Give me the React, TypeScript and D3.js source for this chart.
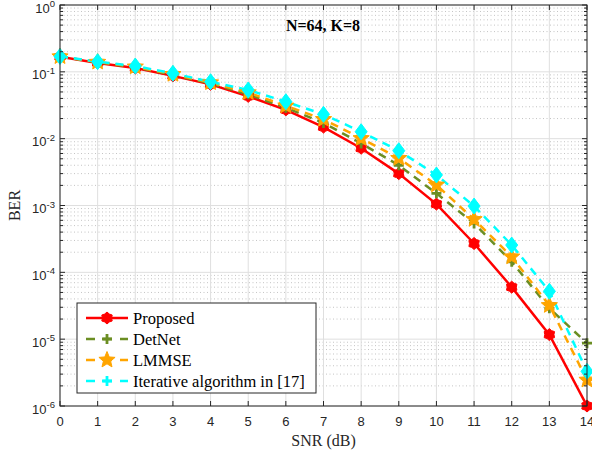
import React from 'react';
import * as d3 from 'd3';

// SNR points (dB)
const snr = [0, 1, 2, 3, 4, 5, 6, 7, 8, 9, 10, 11, 12, 13, 14];

// BER
const proposed = [0.168, 0.136, 0.114, 0.087, 0.065, 0.043, 0.027, 0.0149, 0.0072, 0.003, 0.00105, 0.00027, 6.0e-5, 1.17e-5, 1.0e-6];
const detnet = [0.169, 0.139, 0.117, 0.09, 0.067, 0.046, 0.029, 0.0172, 0.0085, 0.004, 0.00152, 0.00054, 0.000144, 2.9e-5, 8.7e-6];
const lmmse = [0.169, 0.14, 0.119, 0.092, 0.069, 0.049, 0.031, 0.0195, 0.0101, 0.0051, 0.00203, 0.00062, 0.000171, 3.2e-5, 2.45e-6];
const iterative = [0.17, 0.142, 0.122, 0.095, 0.071, 0.0535, 0.0357, 0.0231, 0.0127, 0.0066, 0.00286, 0.00098, 0.000256, 5.2e-5, 3.3e-6];

const seriesNames = ['Proposed', 'DetNet', 'LMMSE', 'Iterative algorithm in [17]'];
const yExponents = [0, -1, -2, -3, -4, -5, -6];

const W = 592;
const H = 453;
const margin = { top: 5, right: 5, bottom: 47, left: 60 };

const serif = '"Liberation Serif", "Times New Roman", serif';
const sans = '"Liberation Sans", Arial, sans-serif';
const axisColor = '#262626';

const starPath = (n: number, rOuter: number, rInner: number) => {
  const pts: [number, number][] = [];
  for (let i = 0; i < n * 2; i++) {
    const r = i % 2 === 0 ? rOuter : rInner;
    const a = -Math.PI / 2 + (i * Math.PI) / n;
    pts.push([r * Math.cos(a), r * Math.sin(a)]);
  }
  return 'M' + pts.map(p => p.join(',')).join('L') + 'Z';
};

const hexagram = starPath(6, 6, 4.6);
const pentagram = starPath(5, 8.5, 3.8);
const diamond = 'M0,-8L6,0L0,8L-6,0Z';
const plus = 'M-5,0L5,0M0,-5L0,5';

type Marker = 'hex' | 'plus' | 'star' | 'diamond';

const MarkerShape = ({ kind, color, x, y }: { kind: Marker; color: string; x: number; y: number }) => {
  const t = `translate(${x},${y})`;
  if (kind === 'plus') return <path transform={t} d={plus} stroke={color} strokeWidth={2.8} fill="none" />;
  const d = kind === 'hex' ? hexagram : kind === 'star' ? pentagram : diamond;
  return <path transform={t} d={d} fill={color} stroke={color} strokeWidth={1} />;
};

const series = [
  { name: seriesNames[0], values: proposed, color: '#ff0000', dash: '', marker: 'hex' as Marker, legendMarker: 'hex' as Marker },
  { name: seriesNames[1], values: detnet, color: '#6b8e23', dash: '8,6', marker: 'plus' as Marker, legendMarker: 'plus' as Marker },
  { name: seriesNames[2], values: lmmse, color: '#ffa500', dash: '8,6', marker: 'star' as Marker, legendMarker: 'star' as Marker },
  { name: seriesNames[3], values: iterative, color: '#00ffff', dash: '8,6', marker: 'diamond' as Marker, legendMarker: 'plus' as Marker },
];

export default function App() {
  const x = d3.scaleLinear().domain([0, 14]).range([margin.left, W - margin.right]);
  const y = d3.scaleLog().domain([1e-6, 1]).range([H - margin.bottom, margin.top]);
  const [x0, x1] = x.range();
  const [y0, y1] = y.range();

  const minor: number[] = [];
  yExponents.slice(0, -1).forEach(e => {
    for (let k = 2; k <= 9; k++) minor.push(k * Math.pow(10, e - 1));
  });

  const line = d3
    .line<number>()
    .x((_, i) => x(snr[i]))
    .y(d => y(d));

  const legend = { x: 77, y: 303, w: 239, h: 90, row: 21 };

  return (
    <svg width={W} height={H} style={{ position: 'absolute', left: 0, top: 0, background: '#fff' }}>
      <rect x={0} y={0} width={W} height={H} fill="#fff" />
      <defs>
        <clipPath id="plot">
          <rect x={x0} y={y1} width={x1 - x0} height={y0 - y1 + 1} />
        </clipPath>
      </defs>

      {/* minor grid */}
      {minor.map(v => (
        <line key={'mg' + v} x1={x0} x2={x1} y1={y(v)} y2={y(v)} stroke="#c4c4c4" strokeWidth={1} strokeDasharray="1,2.5" />
      ))}
      {/* major grid */}
      {snr.map(s => (
        <line key={'gx' + s} x1={x(s)} x2={x(s)} y1={y1} y2={y0} stroke="#dfdfdf" strokeWidth={1} />
      ))}
      {yExponents.map(e => (
        <line key={'gy' + e} x1={x0} x2={x1} y1={y(Math.pow(10, e))} y2={y(Math.pow(10, e))} stroke="#dfdfdf" strokeWidth={1} />
      ))}

      {/* curves */}
      <g clipPath="url(#plot)">
        {series.map(s => (
          <path key={s.name} d={line(s.values) || ''} fill="none" stroke={s.color} strokeWidth={2.5} strokeDasharray={s.dash} />
        ))}
      </g>
      {series.map(s => (
        <g key={s.name + 'm'}>
          {s.values.map((v, i) => (
            <MarkerShape key={i} kind={s.marker} color={s.color} x={x(snr[i])} y={y(v)} />
          ))}
        </g>
      ))}

      {/* box & ticks */}
      <rect x={x0} y={y1} width={x1 - x0} height={y0 - y1} fill="none" stroke={axisColor} strokeWidth={1} />
      {snr.map(s => (
        <g key={'tx' + s}>
          <line x1={x(s)} x2={x(s)} y1={y0} y2={y0 - 5} stroke={axisColor} />
          <line x1={x(s)} x2={x(s)} y1={y1} y2={y1 + 5} stroke={axisColor} />
          <text x={x(s)} y={y0 + 20} textAnchor="middle" fontFamily={sans} fontSize={13} fill={axisColor}>
            {s}
          </text>
        </g>
      ))}
      {yExponents.map(e => {
        const yy = y(Math.pow(10, e));
        return (
          <g key={'ty' + e}>
            <line x1={x0} x2={x0 + 5} y1={yy} y2={yy} stroke={axisColor} />
            <line x1={x1} x2={x1 - 5} y1={yy} y2={yy} stroke={axisColor} />
            <text x={x0 - 5} y={yy + 7.5} textAnchor="end" fontFamily={sans} fontSize={13} fill={axisColor}>
              10<tspan dy={-5.5} fontSize={9.5}>{e === 0 ? '0' : '-' + Math.abs(e)}</tspan>
            </text>
          </g>
        );
      })}
      {minor.map(v => (
        <g key={'mt' + v}>
          <line x1={x0} x2={x0 + 3} y1={y(v)} y2={y(v)} stroke={axisColor} />
          <line x1={x1} x2={x1 - 3} y1={y(v)} y2={y(v)} stroke={axisColor} />
        </g>
      ))}

      {/* labels */}
      <text x={(x0 + x1) / 2} y={446} textAnchor="middle" fontFamily={serif} fontSize={16} fill={axisColor}>
        SNR (dB)
      </text>
      <text
        transform={`translate(20,${(y0 + y1) / 2}) rotate(-90)`}
        textAnchor="middle"
        fontFamily={serif}
        fontSize={16}
        fill={axisColor}
      >
        BER
      </text>
      <text x={323} y={31} textAnchor="middle" fontFamily={serif} fontSize={16} fontWeight="bold" fill="#000">
        N=64, K=8
      </text>

      {/* legend */}
      <rect x={legend.x} y={legend.y} width={legend.w} height={legend.h} fill="#fff" stroke={axisColor} strokeWidth={1} />
      {series.map((s, i) => {
        const ly = legend.y + 15 + i * legend.row;
        return (
          <g key={'lg' + s.name}>
            <line x1={legend.x + 9} x2={legend.x + 51} y1={ly} y2={ly} stroke={s.color} strokeWidth={2.5} strokeDasharray={s.dash ? '9,8' : ''} />
            <MarkerShape kind={s.legendMarker} color={s.color} x={legend.x + 30} y={ly} />
            <text x={legend.x + 56} y={ly + 5.5} fontFamily={serif} fontSize={16.5} fill="#000">
              {s.name}
            </text>
          </g>
        );
      })}
    </svg>
  );
}
